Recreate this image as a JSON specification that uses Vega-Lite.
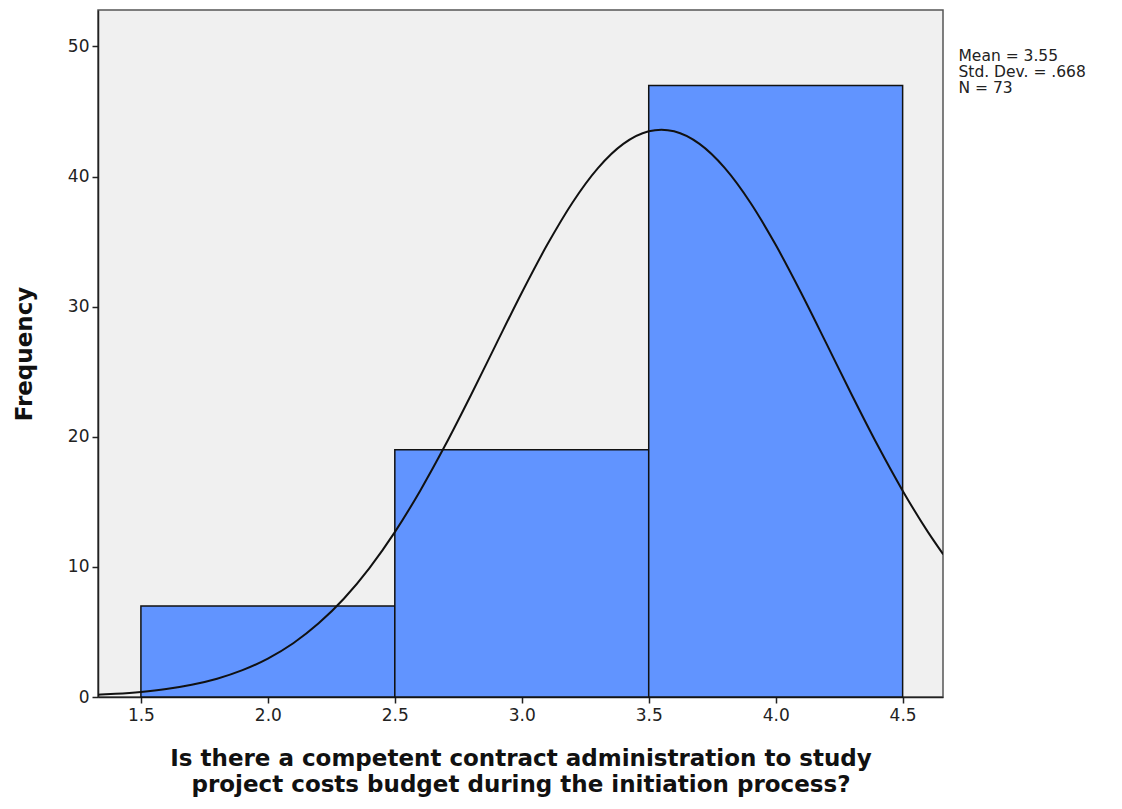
{
  "$schema": "https://vega.github.io/schema/vega-lite/v6.json",
  "autosize": {"type": "none"},
  "padding": {"left": 98, "top": 10, "right": 179, "bottom": 112},
  "width": 845,
  "height": 687,
  "background": "white",
  "config": {
    "view": {"fill": "#F0F0F0", "stroke": "#555555", "strokeWidth": 1.5},
    "font": "DejaVu Sans"
  },
  "datasets": {
    "bars": [
      {"bin_start": 1.5, "bin_end": 2.5, "count": 7},
      {"bin_start": 2.5, "bin_end": 3.5, "count": 19},
      {"bin_start": 3.5, "bin_end": 4.5, "count": 47}
    ],
    "curve": [
      {"x": 1.33, "y": 0.174}, {"x": 1.4, "y": 0.246}, {"x": 1.5, "y": 0.393},
      {"x": 1.6, "y": 0.615}, {"x": 1.7, "y": 0.942}, {"x": 1.8, "y": 1.409},
      {"x": 1.9, "y": 2.063}, {"x": 2.0, "y": 2.954}, {"x": 2.1, "y": 4.132},
      {"x": 2.2, "y": 5.659}, {"x": 2.3, "y": 7.569}, {"x": 2.4, "y": 9.906},
      {"x": 2.5, "y": 12.67}, {"x": 2.6, "y": 15.86}, {"x": 2.7, "y": 19.40},
      {"x": 2.8, "y": 23.21}, {"x": 2.9, "y": 27.16}, {"x": 3.0, "y": 31.07},
      {"x": 3.1, "y": 34.75}, {"x": 3.2, "y": 38.01}, {"x": 3.3, "y": 40.65},
      {"x": 3.4, "y": 42.51}, {"x": 3.5, "y": 43.48}, {"x": 3.55, "y": 43.60},
      {"x": 3.6, "y": 43.48}, {"x": 3.7, "y": 42.51}, {"x": 3.8, "y": 40.65},
      {"x": 3.9, "y": 38.01}, {"x": 4.0, "y": 34.75}, {"x": 4.1, "y": 31.07},
      {"x": 4.2, "y": 27.16}, {"x": 4.3, "y": 23.21}, {"x": 4.4, "y": 19.40},
      {"x": 4.5, "y": 15.86}, {"x": 4.6, "y": 12.67}, {"x": 4.66, "y": 10.96}
    ],
    "stats": [
      {"x": 4.72, "y": 49.8, "label": "Mean = 3.55\nStd. Dev. = .668\nN = 73"}
    ]
  },
  "layer": [
    {
      "data": {"name": "bars"},
      "mark": {"type": "rect", "fill": "#6194FF", "stroke": "#111111", "strokeWidth": 1.5},
      "encoding": {
        "x": {
          "field": "bin_start", "type": "quantitative",
          "scale": {"domain": [1.331, 4.659], "nice": false, "zero": false},
          "axis": {
            "values": [1.5, 2.0, 2.5, 3.0, 3.5, 4.0, 4.5], "format": ".1f",
            "grid": false, "domainColor": "#222222", "domainWidth": 1.5,
            "tickColor": "#222222", "tickWidth": 1.5, "tickSize": 6,
            "labelFont": "DejaVu Sans", "labelFontSize": 17, "labelColor": "#222222", "labelPadding": 4,
            "title": ["Is there a competent contract administration to study", "project costs budget during the initiation process?"],
            "titleFont": "DejaVu Sans", "titleFontSize": 23, "titleFontWeight": "bold",
            "titleColor": "#111111", "titlePadding": 24, "titleLineHeight": 26
          }
        },
        "x2": {"field": "bin_end"},
        "y": {
          "field": "count", "type": "quantitative",
          "scale": {"domain": [0, 52.8], "nice": false},
          "axis": {
            "values": [0, 10, 20, 30, 40, 50],
            "grid": false, "domainColor": "#222222", "domainWidth": 1.5,
            "tickColor": "#222222", "tickWidth": 1.5, "tickSize": 6,
            "labelFont": "DejaVu Sans", "labelFontSize": 17, "labelColor": "#222222", "labelPadding": 3,
            "title": "Frequency",
            "titleFont": "DejaVu Sans", "titleFontSize": 23, "titleFontWeight": "bold",
            "titleColor": "#111111", "titlePadding": 31
          }
        },
        "y2": {"datum": 0}
      }
    },
    {
      "data": {"name": "curve"},
      "mark": {"type": "line", "color": "#111111", "strokeWidth": 2, "interpolate": "monotone", "clip": true},
      "encoding": {
        "x": {"field": "x", "type": "quantitative"},
        "y": {"field": "y", "type": "quantitative"}
      }
    },
    {
      "data": {"name": "stats"},
      "mark": {"type": "text", "align": "left", "baseline": "top", "lineBreak": "\n", "lineHeight": 16, "fontSize": 15.5, "font": "DejaVu Sans", "color": "#222222"},
      "encoding": {
        "x": {"field": "x", "type": "quantitative"},
        "y": {"field": "y", "type": "quantitative"},
        "text": {"field": "label"}
      }
    }
  ]
}
